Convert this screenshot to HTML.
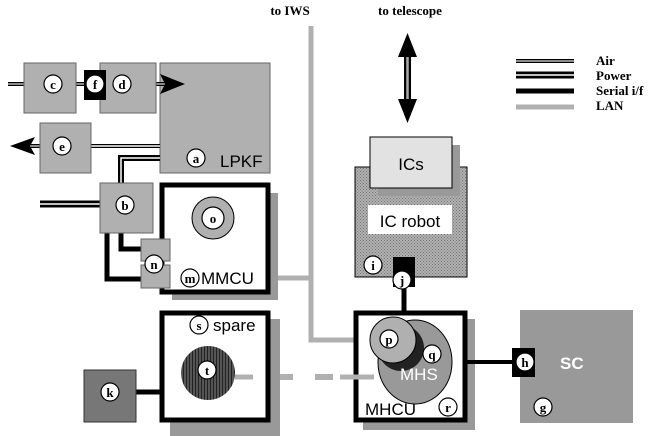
<!DOCTYPE html>
<html><head><meta charset="utf-8"><style>
html,body{margin:0;padding:0;background:#fff;}
svg{display:block;}
.l{font-family:"Liberation Serif",serif;font-weight:bold;font-size:13px;}
.s{font-family:"Liberation Sans",sans-serif;font-size:17px;}
</style></head><body>
<svg width="654" height="436" viewBox="0 0 654 436" xmlns="http://www.w3.org/2000/svg">
<defs>
<pattern id="hatch" width="3" height="3" patternUnits="userSpaceOnUse"><rect width="3" height="3" fill="#b0b0b0"/><rect width="1" height="1" fill="#777"/><rect x="1.5" y="1.5" width="1" height="1" fill="#777"/></pattern>
<pattern id="vstripe" width="3" height="4" patternUnits="userSpaceOnUse"><rect width="3" height="4" fill="#555"/><rect width="1" height="4" fill="#222"/></pattern>
</defs>
<!-- LAN lines -->
<path d="M270 278 H311" stroke="#b0b0b0" stroke-width="5" fill="none"/>
<path d="M311 26 V340 H356" stroke="#b0b0b0" stroke-width="5" fill="none"/>
<path d="M235 377 H380" stroke="#b0b0b0" stroke-width="6" stroke-dasharray="18,22" fill="none"/>

<!-- top labels -->
<text x="290" y="15" class="l" text-anchor="middle">to IWS</text>
<text x="410" y="15" class="l" text-anchor="middle">to telescope</text>

<!-- telescope arrow -->
<line x1="407.5" y1="55" x2="407.5" y2="115" stroke="#000" stroke-width="7"/>
<line x1="407.5" y1="55" x2="407.5" y2="115" stroke="#aaa" stroke-width="2.5"/>
<polygon points="407.5,33 398,57 417,57" fill="#000"/>
<polygon points="407.5,123 398,99 417,99" fill="#000"/>

<!-- legend -->
<line x1="516" y1="61" x2="574" y2="61" stroke="#000" stroke-width="4"/><line x1="516" y1="61" x2="574" y2="61" stroke="#bbb" stroke-width="1.5"/>
<line x1="516" y1="75" x2="574" y2="75" stroke="#000" stroke-width="7"/><line x1="516" y1="75" x2="574" y2="75" stroke="#fff" stroke-width="1.5"/>
<line x1="516" y1="91" x2="574" y2="91" stroke="#000" stroke-width="5"/>
<line x1="516" y1="107" x2="574" y2="107" stroke="#b0b0b0" stroke-width="5"/>
<text x="596" y="65" class="l">Air</text>
<text x="596" y="80" class="l">Power</text>
<text x="596" y="95" class="l">Serial i/f</text>
<text x="596" y="110" class="l">LAN</text>

<!-- LPKF -->
<rect x="160" y="63" width="110" height="110" fill="#b0b0b0" stroke="#666" stroke-width="1"/>
<line x1="8" y1="84" x2="24" y2="84" stroke="#000" stroke-width="4"/><line x1="8" y1="84" x2="24" y2="84" stroke="#bbb" stroke-width="1.5"/>
<line x1="76" y1="84" x2="100" y2="84" stroke="#000" stroke-width="4"/><line x1="76" y1="84" x2="100" y2="84" stroke="#bbb" stroke-width="1.5"/>
<line x1="156" y1="84" x2="165" y2="84" stroke="#000" stroke-width="4"/><line x1="156" y1="84" x2="165" y2="84" stroke="#bbb" stroke-width="1.5"/>
<polygon points="160,74 185,84 160,94 165,84" fill="#000"/>
<line x1="25" y1="146" x2="40" y2="146" stroke="#000" stroke-width="4"/><line x1="25" y1="146" x2="40" y2="146" stroke="#bbb" stroke-width="1.5"/>
<line x1="91" y1="146" x2="160" y2="146" stroke="#000" stroke-width="4"/><line x1="91" y1="146" x2="160" y2="146" stroke="#fff" stroke-width="1.5"/>
<polygon points="35,137 10,146 35,155 30,146" fill="#000"/>
<path d="M160 158 H121 V183" stroke="#000" stroke-width="6" fill="none"/>
<path d="M160 158 H121 V183" stroke="#fff" stroke-width="1.5" fill="none"/>
<line x1="40" y1="204" x2="100" y2="204" stroke="#000" stroke-width="7"/><line x1="40" y1="204" x2="100" y2="204" stroke="#fff" stroke-width="1.5"/>

<rect x="24" y="63" width="52" height="50" fill="#b0b0b0" stroke="#666"/>
<rect x="100" y="63" width="56" height="50" fill="#b0b0b0" stroke="#666"/>
<rect x="84" y="70" width="22" height="30" fill="#000"/>
<rect x="40" y="123" width="51" height="50" fill="#b0b0b0" stroke="#666"/>

<path d="M121 230 V249 H146" stroke="#000" stroke-width="5" fill="none"/>
<path d="M107 230 V279 H146" stroke="#000" stroke-width="5" fill="none"/>
<rect x="100" y="183" width="53" height="50" fill="#b0b0b0" stroke="#666"/>

<!-- MMCU -->
<rect x="172" y="193" width="106" height="107" fill="#999"/>
<rect x="162" y="185" width="106" height="107" fill="#fff" stroke="#000" stroke-width="5"/>
<circle cx="213" cy="218" r="21" fill="#b0b0b0" stroke="#000" stroke-width="1"/>
<rect x="141" y="239" width="29" height="22" fill="#b0b0b0" stroke="#666"/>
<rect x="141" y="265" width="29" height="23" fill="#b0b0b0" stroke="#666"/>
<text x="201" y="284" class="s">MMCU</text>
<text x="220" y="167" class="s">LPKF</text>

<!-- spare -->
<rect x="170" y="319" width="110" height="117" fill="#999"/>
<rect x="162" y="313" width="106" height="107" fill="#fff" stroke="#000" stroke-width="5"/>
<line x1="136" y1="392" x2="162" y2="392" stroke="#000" stroke-width="5"/>
<rect x="84" y="370" width="52" height="52" fill="#777" stroke="#333"/>
<ellipse cx="208" cy="373" rx="27" ry="27" fill="url(#vstripe)"/>
<text x="213" y="331" class="s">spare</text>
<line x1="235" y1="377" x2="253" y2="377" stroke="#b0b0b0" stroke-width="5"/>

<!-- IC robot -->
<line x1="404" y1="285" x2="404" y2="312" stroke="#000" stroke-width="5"/>
<rect x="355" y="167" width="112" height="110" fill="url(#hatch)" stroke="#000" stroke-width="1"/>
<rect x="378" y="145" width="82" height="51" fill="#999"/>
<rect x="370" y="137" width="82" height="51" fill="#e2e2e2" stroke="#000" stroke-width="1"/>
<text x="411" y="170" class="s" text-anchor="middle">ICs</text>
<rect x="368" y="205" width="84" height="29" fill="#fff"/>
<text x="410" y="227" class="s" text-anchor="middle">IC robot</text>
<rect x="393" y="257" width="22" height="30" fill="#000"/>

<!-- MHCU -->
<rect x="363" y="319" width="112" height="111" fill="#999"/>
<rect x="356" y="313" width="109" height="107" fill="#fff" stroke="#000" stroke-width="5"/>
<line x1="340" y1="377" x2="374" y2="377" stroke="#b0b0b0" stroke-width="5"/>
<ellipse cx="415" cy="362" rx="37" ry="42" fill="#999" stroke="#000" stroke-width="1"/>
<circle cx="401" cy="348" r="23" fill="#222"/>
<circle cx="393" cy="340" r="23" fill="#b0b0b0" stroke="#000" stroke-width="1"/>
<text x="400" y="380" class="s" fill="#fff">MHS</text>
<text x="365" y="415" class="s">MHCU</text>
<line x1="465" y1="362" x2="512" y2="362" stroke="#000" stroke-width="4"/>

<!-- SC -->
<rect x="520" y="310" width="113" height="113" fill="#999"/>
<rect x="512" y="348" width="23" height="29" fill="#000"/>
<text x="560" y="369" class="s" fill="#fff" font-weight="bold">SC</text>

<!-- letter circles -->
<g class="l" text-anchor="middle" font-size="14">
<g fill="#fff" stroke="#000" stroke-width="1.2">
<circle cx="53" cy="84" r="9"/><circle cx="95" cy="84" r="9"/><circle cx="122" cy="84" r="9"/>
<circle cx="62" cy="146" r="9"/><circle cx="196" cy="158" r="9"/><circle cx="125" cy="205" r="9"/>
<circle cx="213" cy="218" r="11"/><circle cx="154" cy="264" r="9"/><circle cx="190" cy="278" r="9"/>
<circle cx="199" cy="325" r="9"/><circle cx="207" cy="370" r="9"/><circle cx="110" cy="392" r="9"/>
<circle cx="373" cy="265" r="9"/><circle cx="402" cy="280" r="9"/>
<circle cx="389" cy="339" r="9"/><circle cx="432" cy="354" r="9"/><circle cx="448" cy="407" r="9"/>
<circle cx="525" cy="362" r="9"/><circle cx="543" cy="407" r="9"/>
</g>
<text x="53" y="89">c</text><text x="95" y="89">f</text><text x="122" y="89">d</text>
<text x="62" y="151">e</text><text x="196" y="163">a</text><text x="125" y="210">b</text>
<text x="213" y="223">o</text><text x="154" y="269">n</text><text x="190" y="283">m</text>
<text x="199" y="330">s</text><text x="207" y="375">t</text><text x="110" y="397">k</text>
<text x="373" y="270">i</text><text x="402" y="285">j</text>
<text x="389" y="344">p</text><text x="432" y="359">q</text><text x="448" y="412">r</text>
<text x="525" y="367">h</text><text x="543" y="412">g</text>
</g>
</svg>
</body></html>
